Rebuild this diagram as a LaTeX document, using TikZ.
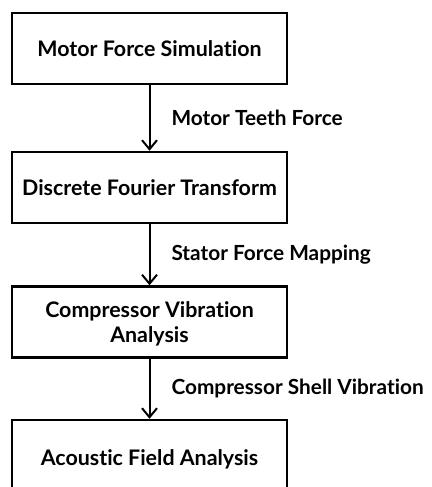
\documentclass[tikz,border=0pt]{standalone}
\usepackage{fontspec}
\setmainfont{Lato}[Ligatures={CommonOff,ContextualOff}]
\usetikzlibrary{arrows.meta}

\tikzset{
  block/.style={draw, line width=2.5pt, minimum width=275pt, minimum height=71pt,
    align=center, inner sep=0pt, font=\fontsize{21.4}{25}\selectfont\bfseries},
  flow/.style={line width=2pt, -{Straight Barb[length=9pt, width=15pt, line width=2pt]}},
  tag/.style={right, inner sep=0pt, xshift=21pt, font=\fontsize{20.8}{25}\selectfont\bfseries}
}

\begin{document}
\begin{tikzpicture}[x=1pt, y=-1pt]
\useasboundingbox (0,0) rectangle (431,487);
% the four stages, top to bottom
\node[block] (sim) at (149.5, 48.5) {Motor Force Simulation};
\node[block] (dft) at (149.5, 187.5) {Discrete Fourier Transform};
\node[block, text depth=0pt] (vib) at (149.5, 322) {Compressor Vibration\\Analysis};
\node[block, minimum height=78pt] (acu) at (149.5, 459) {Acoustic Field Analysis};
% what is passed on between them
\draw[flow] (sim) -- node[tag] (teeth) {Motor Teeth Force} (dft);
\draw[flow] (dft) -- node[tag] (map) {Stator Force Mapping} (vib);
\draw[flow] (vib) -- node[tag] (shell) {Compressor Shell Vibration} (acu);
\end{tikzpicture}
\end{document}
